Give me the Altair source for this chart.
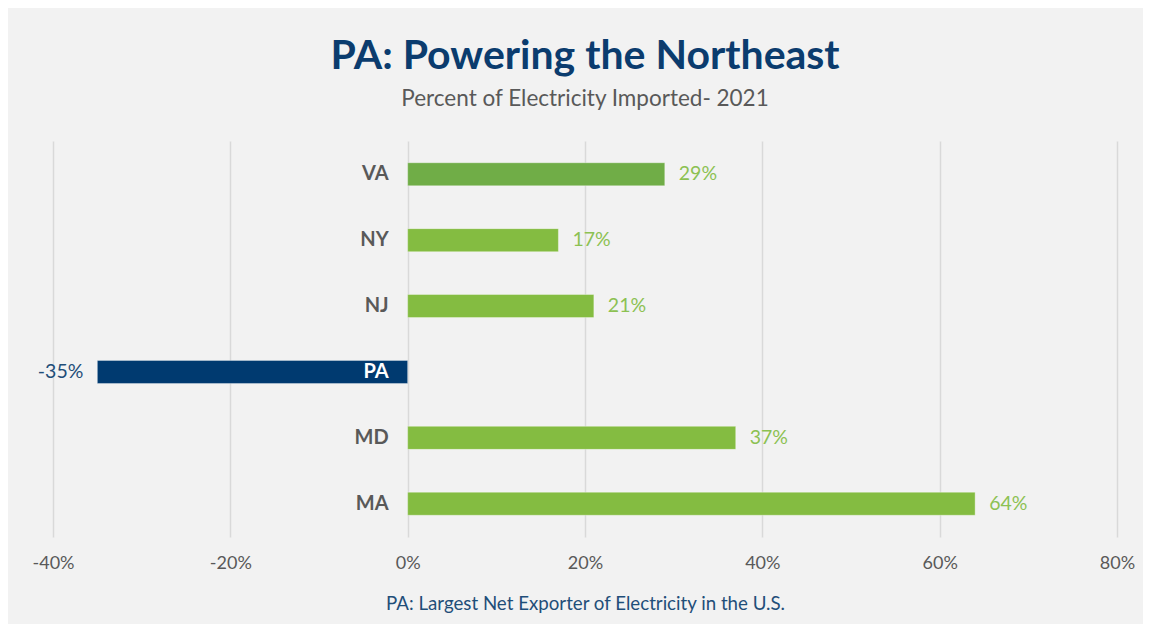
import altair as alt
import pandas as pd

states = ["VA", "NY", "NJ", "PA", "MD", "MA"]
values = [29, 17, 21, -35, 37, 64]
bar_colors = ["#70AD47", "#84BC41", "#84BC41", "#003A70", "#84BC41", "#84BC41"]
label_colors = ["#8CC152", "#8CC152", "#8CC152", "#1F4E79", "#8CC152", "#8CC152"]
x_ticks = [-40, -20, 0, 20, 40, 60, 80]

df = pd.DataFrame({
    "state": states,
    "value": values,
    "bar_color": bar_colors,
    "label_color": label_colors,
    "label": [f"{v}%" for v in values],
    "name_color": ["#FFFFFF" if s == "PA" else "#595959" for s in states],
})

FONT = "Lato"

x = alt.X(
    "value:Q",
    scale=alt.Scale(domain=[-40, 80], nice=False),
    axis=alt.Axis(
        values=x_ticks,
        labelExpr="datum.value + '%'",
        labelFlush=False,
        labelBound=False,
        domain=False,
        ticks=False,
        labelFontSize=18,
        labelColor="#595959",
        labelFont=FONT,
        labelPadding=17,
        gridColor="#D9D9D9",
        gridWidth=1.5,
        title="PA: Largest Net Exporter of Electricity in the U.S.",
        titleFont=FONT,
        titleFontSize=18.7,
        titleFontWeight="normal",
        titleColor="#1F4E79",
        titlePadding=22,
    ),
)
y = alt.Y(
    "state:N",
    sort=states,
    scale=alt.Scale(paddingInner=0.65, paddingOuter=0.33),
    axis=None,
)

base = alt.Chart(df)

bars = base.mark_bar(stroke="#FFFFFF", strokeOpacity=0.35, strokeWidth=1).encode(
    x=x,
    x2=alt.datum(0),
    y=y,
    color=alt.Color("bar_color:N", scale=None),
)

pos_labels = base.transform_filter("datum.value >= 0").mark_text(
    align="left", baseline="middle", dx=14, fontSize=19.5, font=FONT
).encode(
    x="value:Q", y=y, text="label:N", color=alt.Color("label_color:N", scale=None)
)

neg_labels = base.transform_filter("datum.value < 0").mark_text(
    align="right", baseline="middle", dx=-14, fontSize=19.5, font=FONT
).encode(
    x="value:Q", y=y, text="label:N", color=alt.Color("label_color:N", scale=None)
)

names = base.mark_text(
    align="right", baseline="middle", dx=-19, fontSize=20, fontWeight="bold", font=FONT
).encode(
    x=alt.datum(0), y=y, text="state:N", color=alt.Color("name_color:N", scale=None)
)

chart = alt.layer(bars, pos_labels, neg_labels, names).properties(
    width=1064,
    height=396,
    background="#F2F2F2",
    padding={"left": 45, "top": 133, "right": 26, "bottom": 87},
    autosize=alt.AutoSizeParams(type="none"),
    title=alt.TitleParams(
        text="PA: Powering the Northeast",
        subtitle="Percent of Electricity Imported- 2021",
        font=FONT,
        fontSize=41,
        fontWeight="bold",
        color="#0B3C6E",
        subtitleFont=FONT,
        subtitleFontSize=22.5,
        subtitleColor="#595959",
        subtitlePadding=10,
        anchor="middle",
        offset=30,
    ),
).configure_view(stroke=None)

chart.save("out.html", embed_options={"renderer": "svg", "actions": False})
